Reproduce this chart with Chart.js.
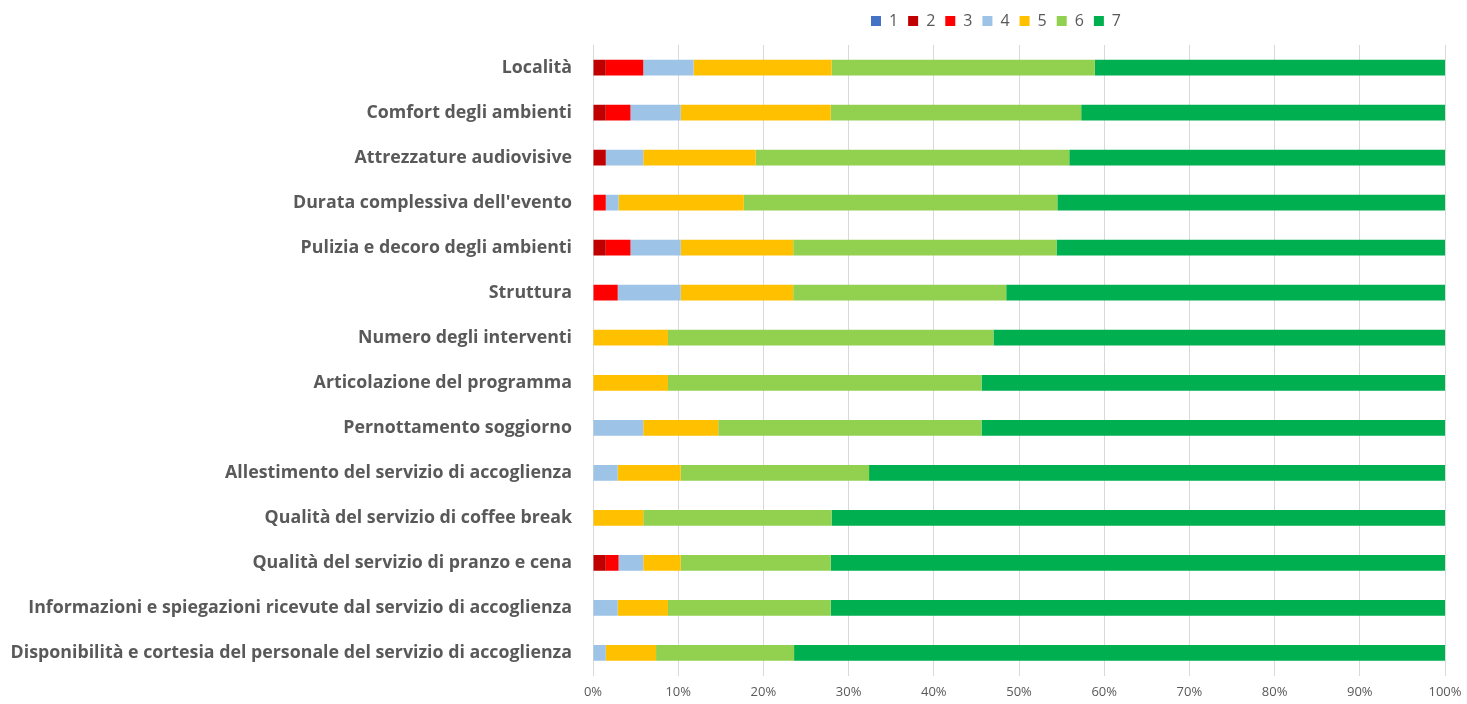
<!DOCTYPE html>
<html>
<head>
<meta charset="utf-8">
<script src="https://cdn.jsdelivr.net/npm/chart.js@4/dist/chart.umd.min.js"></script>
<style>
  html, body { margin: 0; padding: 0; background: #fff; }
  canvas { display: block; }
</style>
</head>
<body>
<canvas id="chart" width="1467" height="704"></canvas>
<script>
const categories = [
  "Località",
  "Comfort degli ambienti",
  "Attrezzature audiovisive",
  "Durata complessiva dell'evento",
  "Pulizia e decoro degli ambienti",
  "Struttura",
  "Numero degli interventi",
  "Articolazione del programma",
  "Pernottamento soggiorno",
  "Allestimento del servizio di accoglienza",
  "Qualità del servizio di coffee break",
  "Qualità del servizio di pranzo e cena",
  "Informazioni e spiegazioni ricevute dal servizio di accoglienza",
  "Disponibilità e cortesia del personale del servizio di accoglienza"
];

// share of answers (%) for each score, one array per score, rows in category order
const score1 = [0, 0, 0, 0, 0, 0, 0, 0, 0, 0, 0, 0, 0, 0];
const score2 = [1.5, 1.5, 1.5, 0, 1.5, 0, 0, 0, 0, 0, 0, 1.5, 0, 0];
const score3 = [4.4, 2.9, 0, 1.5, 2.9, 2.9, 0, 0, 0, 0, 0, 1.5, 0, 0];
const score4 = [5.9, 5.9, 4.4, 1.5, 5.9, 7.4, 0, 0, 5.9, 2.9, 0, 2.9, 2.9, 1.5];
const score5 = [16.2, 17.6, 13.2, 14.7, 13.2, 13.2, 8.8, 8.8, 8.8, 7.4, 5.9, 4.4, 5.9, 5.9];
const score6 = [30.9, 29.4, 36.8, 36.8, 30.9, 25.0, 38.2, 36.8, 30.9, 22.1, 22.1, 17.6, 19.1, 16.2];
const score7 = [41.2, 42.7, 44.1, 45.6, 45.6, 51.5, 53.0, 54.4, 54.4, 67.6, 72.1, 72.1, 72.1, 76.5];

const xTicks = [0, 10, 20, 30, 40, 50, 60, 70, 80, 90, 100];

const seriesLabels = ["1", "2", "3", "4", "5", "6", "7"];
const seriesValues = [score1, score2, score3, score4, score5, score6, score7];
const seriesColors = ["#4472C4", "#C00000", "#FF0000", "#9DC3E6", "#FFC000", "#92D050", "#00B050"];

const datasets = seriesLabels.map((label, i) => ({
  label,
  data: seriesValues[i],
  backgroundColor: seriesColors[i],
  borderWidth: 0,
  categoryPercentage: 0.5,
  barPercentage: 0.7,
}));

// fixed legend height and a small shift to the left, like the original
const legendTweak = {
  id: "legendTweak",
  beforeInit(chart) {
    const fit = chart.legend.fit;
    chart.legend.fit = function () {
      fit.bind(chart.legend)();
      this.height = 42;
    };
  },
  afterUpdate(chart) {
    chart.legend.left -= 23;
    chart.legend.right -= 23;
  },
};

const ctx = document.getElementById("chart").getContext("2d");

new Chart(ctx, {
  type: "bar",
  data: { labels: categories, datasets },
  plugins: [legendTweak],
  options: {
    indexAxis: "y",
    responsive: false,
    maintainAspectRatio: false,
    animation: false,
    layout: { padding: { left: 0, right: 22, top: 3, bottom: 0 } },
    plugins: {
      tooltip: { enabled: false },
      legend: {
        position: "top",
        fullSize: false,
        labels: {
          boxWidth: 10,
          boxHeight: 10,
          padding: 10,
          color: "#595959",
          font: { family: "'Open Sans', sans-serif", size: 16 },
        },
      },
    },
    scales: {
      x: {
        stacked: true,
        min: 0,
        max: 100,
        afterBuildTicks: scale => {
          scale.ticks = xTicks.map(v => ({ value: v }));
        },
        afterFit: scale => {
          scale.height = 28.5;
          scale.paddingLeft = 0;
          scale.paddingRight = 0;
        },
        grid: { color: "#d9d9d9", drawTicks: false },
        border: { display: false },
        ticks: {
          padding: 9,
          color: "#595959",
          font: { family: "'Open Sans', sans-serif", size: 13 },
          callback: v => v + "%",
        },
      },
      y: {
        stacked: true,
        grid: { display: false },
        border: { display: false },
        afterFit: scale => {
          scale.width = 593;
          scale.paddingTop = 0;
          scale.paddingBottom = 0;
        },
        ticks: {
          padding: 13,
          color: "#595959",
          font: { family: "'Open Sans', sans-serif", size: 17.8, weight: "bold" },
        },
      },
    },
  },
});
</script>
</body>
</html>
